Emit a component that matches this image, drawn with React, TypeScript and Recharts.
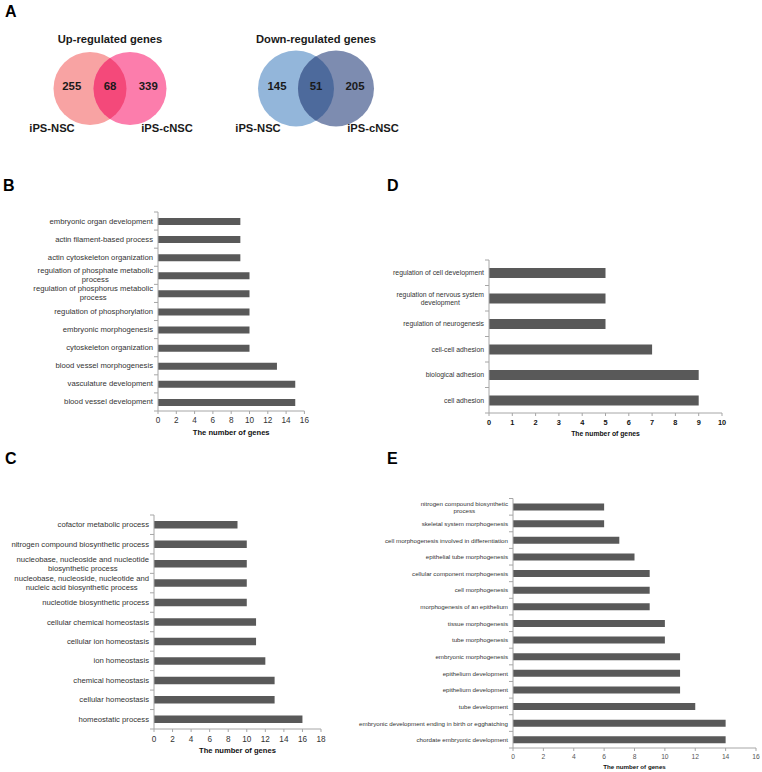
import React from 'react';
import { BarChart, Bar, XAxis, YAxis, ScatterChart, Scatter } from 'recharts';

const FONT = '"Liberation Sans", Arial, sans-serif';
const BAR_COLOR = '#595959';
const AXIS_COLOR = '#a6a6a6';

// Panel A: Venn counts (left only, shared, right only)
const vennSetNames = ['iPS-NSC', 'iPS-cNSC'];
const upCounts = [255, 68, 339];
const downCounts = [145, 51, 205];

// Panel B
const bTerms = [
  'embryonic organ development',
  'actin filament-based process',
  'actin cytoskeleton organization',
  'regulation of phosphate metabolic\nprocess',
  'regulation of phosphorus metabolic\nprocess',
  'regulation of phosphorylation',
  'embryonic morphogenesis',
  'cytoskeleton organization',
  'blood vessel morphogenesis',
  'vasculature development',
  'blood vessel development',
];
const bValues = [9, 9, 9, 10, 10, 10, 10, 10, 13, 15, 15];
const bTicks = [0, 2, 4, 6, 8, 10, 12, 14, 16];

// Panel C
const cTerms = [
  'cofactor metabolic process',
  'nitrogen compound biosynthetic process',
  'nucleobase, nucleoside and nucleotide\nbiosynthetic process',
  'nucleobase, nucleoside, nucleotide and\nnucleic acid biosynthetic process',
  'nucleotide biosynthetic process',
  'cellular chemical homeostasis',
  'cellular ion homeostasis',
  'ion homeostasis',
  'chemical homeostasis',
  'cellular homeostasis',
  'homeostatic process',
];
const cValues = [9, 10, 10, 10, 10, 11, 11, 12, 13, 13, 16];
const cTicks = [0, 2, 4, 6, 8, 10, 12, 14, 16, 18];

// Panel D
const dTerms = [
  'regulation of cell development',
  'regulation of nervous system\ndevelopment',
  'regulation of neurogenesis',
  'cell-cell adhesion',
  'biological adhesion',
  'cell adhesion',
];
const dValues = [5, 5, 5, 7, 9, 9];
const dTicks = [0, 1, 2, 3, 4, 5, 6, 7, 8, 9, 10];

// Panel E
const eTerms = [
  'nitrogen compound biosynthetic\nprocess',
  'skeletal system morphogenesis',
  'cell morphogenesis involved in differentiation',
  'epithelial tube morphogenesis',
  'cellular component morphogenesis',
  'cell morphogenesis',
  'morphogenesis of an epithelium',
  'tissue morphogenesis',
  'tube morphogenesis',
  'embryonic morphogenesis',
  'epithelium development',
  'epithelium development',
  'tube development',
  'embryonic development ending in birth or egghatching',
  'chordate embryonic development',
];
const eValues = [6, 6, 7, 8, 9, 9, 9, 10, 10, 11, 11, 11, 12, 14, 14];
const eTicks = [0, 2, 4, 6, 8, 10, 12, 14, 16];

let measureCtx: CanvasRenderingContext2D | null = null;
function textWidth(s: string, size: number) {
  if (!measureCtx) measureCtx = document.createElement('canvas').getContext('2d');
  if (!measureCtx) return s.length * size * 0.5;
  measureCtx.font = `${size}px "Liberation Sans", Arial`;
  return measureCtx.measureText(s).width;
}

function makeTermTick(axisX: number, band: number, count: number, fontSize: number, lineH: number) {
  return (props: any) => {
    const { y, payload, index } = props;
    const lines = String(payload.value).split('\n');
    const gap = 5;
    let x = axisX - gap;
    let anchor: 'end' | 'middle' = 'end';
    if (lines.length > 1) {
      const w = Math.max(...lines.map((l) => textWidth(l, fontSize)));
      x = axisX - gap - w / 2;
      anchor = 'middle';
    }
    return (
      <g>
        <line x1={axisX - 4} x2={axisX} y1={y - band / 2} y2={y - band / 2} stroke={AXIS_COLOR} />
        {index === count - 1 && (
          <line x1={axisX - 4} x2={axisX} y1={y + band / 2} y2={y + band / 2} stroke={AXIS_COLOR} />
        )}
        <text x={x} y={y} textAnchor={anchor} fontSize={fontSize} fill="#333" fontFamily={FONT}>
          {lines.map((l, i) => (
            <tspan key={i} x={x} y={y + (i - (lines.length - 1) / 2) * lineH} dominantBaseline="central">
              {l}
            </tspan>
          ))}
        </text>
      </g>
    );
  };
}

interface GoChartProps {
  terms: string[];
  values: number[];
  ticks: number[];
  left: number;
  top: number;
  width: number;
  height: number;
  marginTop: number;
  marginRight: number;
  yWidth: number;
  xHeight: number;
  barSize: number;
  labelSize: number;
  lineH: number;
  tickSize: number;
  tickMargin: number;
  tickBold?: boolean;
  tickColor: string;
  titleSize: number;
  titleOffset: number;
}

function GoChart(p: GoChartProps) {
  const data = p.terms.map((term, i) => ({ term, value: p.values[i] }));
  const plotH = p.height - p.marginTop - p.xHeight;
  const band = plotH / data.length;
  const axisX = p.yWidth;
  return (
    <div style={{ position: 'absolute', left: p.left, top: p.top }}>
      <BarChart
        width={p.width}
        height={p.height}
        data={data}
        layout="vertical"
        margin={{ top: p.marginTop, right: p.marginRight, bottom: 0, left: 0 }}
        barCategoryGap={0}
      >
        <XAxis
          type="number"
          domain={[0, p.ticks[p.ticks.length - 1]]}
          ticks={p.ticks}
          interval={0}
          height={p.xHeight}
          stroke={AXIS_COLOR}
          tickSize={p.tickSize}
          tickMargin={p.tickMargin}
          tick={{ fontSize: p.tickSize === 0 ? 0 : p.labelSize + 0.5, fill: p.tickColor, fontWeight: p.tickBold ? 'bold' : 'normal', fontFamily: FONT }}
          label={{
            value: 'The number of genes',
            position: 'insideBottom',
            offset: p.titleOffset,
            style: { fontSize: p.titleSize, fontWeight: 'bold', fill: '#111', fontFamily: FONT },
          }}
        />
        <YAxis
          type="category"
          dataKey="term"
          width={p.yWidth}
          interval={0}
          tickLine={false}
          stroke={AXIS_COLOR}
          tick={makeTermTick(axisX, band, data.length, p.labelSize, p.lineH)}
        />
        <Bar dataKey="value" fill={BAR_COLOR} barSize={p.barSize} isAnimationActive={false} />
      </BarChart>
    </div>
  );
}

interface VennProps {
  title: string;
  counts: number[];
  colors: string[];
  radius: number;
  left: number;
  id: string;
}

function Venn({ title, counts, colors, radius, left, id }: VennProps) {
  const cx = 100;
  const cy = 58.5;
  const half = 20;
  const circles = [
    { x: cx - half, y: cy, role: 'left' },
    { x: cx + half, y: cy, role: 'right' },
  ];
  const countLabels = [
    { x: cx - half - radius * 0.5, y: cy - 3, text: String(counts[0]) },
    { x: cx, y: cy - 3, text: String(counts[1]) },
    { x: cx + half + radius * 0.5, y: cy - 3, text: String(counts[2]) },
  ];
  const nameLabels = [
    { x: 42, y: 98, text: vennSetNames[0] },
    { x: 157, y: 98, text: vennSetNames[1] },
    { x: 100, y: 9, text: title },
  ];
  const clipId = `clip-${id}`;
  const circleShape = (props: any) => {
    const { cx: px, cy: py, payload } = props;
    if (payload.role === 'left') {
      return (
        <g>
          <defs>
            <clipPath id={clipId}>
              <circle cx={px} cy={py} r={radius} />
            </clipPath>
          </defs>
          <circle cx={px} cy={py} r={radius} fill={colors[0]} />
        </g>
      );
    }
    return (
      <g>
        <circle cx={px} cy={py} r={radius} fill={colors[1]} />
        <circle cx={px} cy={py} r={radius} fill={colors[2]} clipPath={`url(#${clipId})`} />
      </g>
    );
  };
  const textShape = (size: number, color: string) => (props: any) => (
    <text
      x={props.cx}
      y={props.cy}
      textAnchor="middle"
      dominantBaseline="central"
      fontSize={size}
      fontWeight="bold"
      fill={color}
      fontFamily={FONT}
    >
      {props.payload.text}
    </text>
  );
  return (
    <div style={{ position: 'absolute', left, top: 30 }}>
      <ScatterChart width={200} height={110} margin={{ top: 0, right: 0, bottom: 0, left: 0 }}>
        <XAxis type="number" dataKey="x" domain={[0, 200]} hide />
        <YAxis type="number" dataKey="y" domain={[0, 110]} reversed hide />
        <Scatter data={circles} shape={circleShape} isAnimationActive={false} />
        <Scatter data={countLabels} shape={textShape(11.4, '#1a1a1a')} isAnimationActive={false} />
        <Scatter data={nameLabels} shape={textShape(11.2, '#1a1a1a')} isAnimationActive={false} />
      </ScatterChart>
    </div>
  );
}

const letterStyle: React.CSSProperties = {
  position: 'absolute',
  fontFamily: FONT,
  fontWeight: 'bold',
  fontSize: 16,
  lineHeight: '16px',
  color: '#000',
};

export default function App() {
  return (
    <div style={{ position: 'absolute', left: 0, top: 0, width: 762, height: 772, background: '#fff', overflow: 'hidden' }}>
      <div style={{ ...letterStyle, left: 5, top: 4 }}>A</div>
      <div style={{ ...letterStyle, left: 3, top: 178 }}>B</div>
      <div style={{ ...letterStyle, left: 5, top: 451 }}>C</div>
      <div style={{ ...letterStyle, left: 387, top: 178 }}>D</div>
      <div style={{ ...letterStyle, left: 387, top: 451 }}>E</div>

      <Venn id="up" title="Up-regulated genes" counts={upCounts} colors={['#f8a3a3', '#fc7dac', '#f4497a']} radius={36.5} left={10} />
      <Venn id="down" title="Down-regulated genes" counts={downCounts} colors={['#93b6da', '#7d8cb0', '#4d6a9c']} radius={38} left={216} />

      <GoChart
        terms={bTerms} values={bValues} ticks={bTicks}
        left={0} top={200} width={330} height={245}
        marginTop={12} marginRight={25.6} yWidth={158} xHeight={34}
        barSize={7} labelSize={7.7} lineH={9}
        tickSize={3} tickMargin={3} tickColor="#333"
        titleSize={7.6} titleOffset={10.3}
      />
      <GoChart
        terms={cTerms} values={cValues} ticks={cTicks}
        left={0} top={500} width={340} height={265}
        marginTop={15} marginRight={19} yWidth={154} xHeight={36}
        barSize={7.5} labelSize={7.7} lineH={9}
        tickSize={3} tickMargin={4} tickColor="#333"
        titleSize={7.6} titleOffset={12.3}
      />
      <GoChart
        terms={dTerms} values={dValues} ticks={dTicks}
        left={330} top={240} width={432} height={210}
        marginTop={20} marginRight={40} yWidth={159} xHeight={37}
        barSize={10} labelSize={6.85} lineH={8}
        tickSize={3} tickMargin={4} tickBold tickColor="#111"
        titleSize={6.8} titleOffset={14.5}
      />
      <GoChart
        terms={eTerms} values={eValues} ticks={eTicks}
        left={330} top={485} width={432} height={287}
        marginTop={13.5} marginRight={6} yWidth={183} xHeight={24}
        barSize={7} labelSize={6.2} lineH={7}
        tickSize={3} tickMargin={3.5} tickColor="#555"
        titleSize={6.2} titleOffset={2.8}
      />
    </div>
  );
}
